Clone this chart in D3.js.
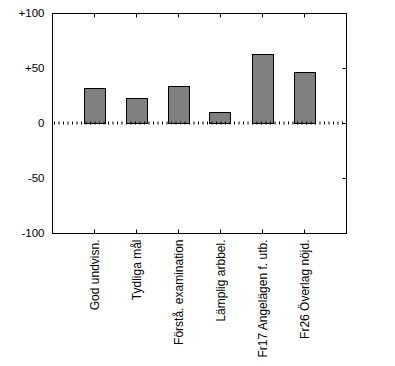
<!DOCTYPE html>
<html><head><meta charset="utf-8">
<script src="https://cdn.jsdelivr.net/npm/d3@7"></script>
<style>body{margin:0;background:#fff}svg{display:block}text{font-family:"Liberation Sans",Arial,sans-serif;font-size:11px;fill:#000}</style>
</head><body>
<script>
const categories = ["God undvisn.", "Tydliga mål", "Förstå. examination", "Lämplig arbbel.", "Fr17 Angelägen f. utb.", "Fr26 Överlag nöjd."];
const values = [32, 23, 34, 10, 63, 46];
const yTicks = [100, 50, 0, -50, -100];
const yTickLabels = ["+100", "+50", "0", "-50", "-100"];

const W = 395, H = 366;
const m = {l: 52, r: 346, t: 13, b: 233};
const svg = d3.select("body").append("svg").attr("width", W).attr("height", H);

const x = d3.scaleLinear().domain([0, categories.length + 1]).range([m.l, m.r]);
const y = d3.scaleLinear().domain([-100, 100]).range([m.b, m.t]);
const bw = 21;

// bars
svg.selectAll("rect.bar").data(values).join("rect")
  .attr("class", "bar")
  .attr("x", (d, i) => Math.round(x(i + 1) - bw / 2) + 0.5)
  .attr("y", d => Math.round(y(Math.max(0, d))) + 0.5)
  .attr("width", bw)
  .attr("height", d => Math.abs(Math.round(y(d)) - Math.round(y(0))))
  .attr("fill", "#808080").attr("stroke", "#000").attr("stroke-width", 1);

// zero line (dotted tick style)
svg.append("line")
  .attr("x1", m.l + 2).attr("x2", m.r - 1)
  .attr("y1", y(0)).attr("y2", y(0))
  .attr("stroke", "#000").attr("stroke-width", 3)
  .attr("stroke-dasharray", "1,3.5");

// frame
svg.append("rect").attr("x", m.l + 0.5).attr("y", m.t + 0.5)
  .attr("width", m.r - m.l).attr("height", m.b - m.t)
  .attr("fill", "none").attr("stroke", "#000").attr("stroke-width", 1);

// top & bottom ticks (inward)
const xt = d3.range(1, categories.length + 1);
svg.append("g").attr("transform", `translate(0,${m.t + 0.5})`)
  .call(d3.axisTop(x).tickValues(xt).tickSizeInner(-4).tickSizeOuter(0).tickFormat(""))
  .call(g => g.select(".domain").remove());
svg.append("g").attr("transform", `translate(0,${m.b + 0.5})`)
  .call(d3.axisBottom(x).tickValues(xt).tickSizeInner(-4).tickSizeOuter(0).tickFormat((d) => categories[d - 1]))
  .call(g => g.select(".domain").remove())
  .call(g => g.selectAll("text")
    .attr("transform", "rotate(-90)")
    .attr("text-anchor", "end")
    .attr("x", -6).attr("y", 0).attr("dy", "0.35em")
    .style("font-family", '"Liberation Sans",Arial,sans-serif').style("font-size", "12px"));

// right ticks (inward)
svg.append("g").attr("transform", `translate(${m.r + 0.5},0)`)
  .call(d3.axisRight(y).tickValues(yTicks).tickSizeInner(-4).tickSizeOuter(0).tickFormat(""))
  .call(g => g.select(".domain").remove());

// left labels
svg.append("g").attr("transform", `translate(${m.l + 0.5},0)`)
  .call(d3.axisLeft(y).tickValues(yTicks).tickSize(0).tickPadding(8)
    .tickFormat((d, i) => yTickLabels[i]))
  .call(g => g.select(".domain").remove())
  .call(g => g.selectAll("text").style("font-family", '"Liberation Sans",Arial,sans-serif').style("font-size", "11.5px"));
</script>
</body></html>
